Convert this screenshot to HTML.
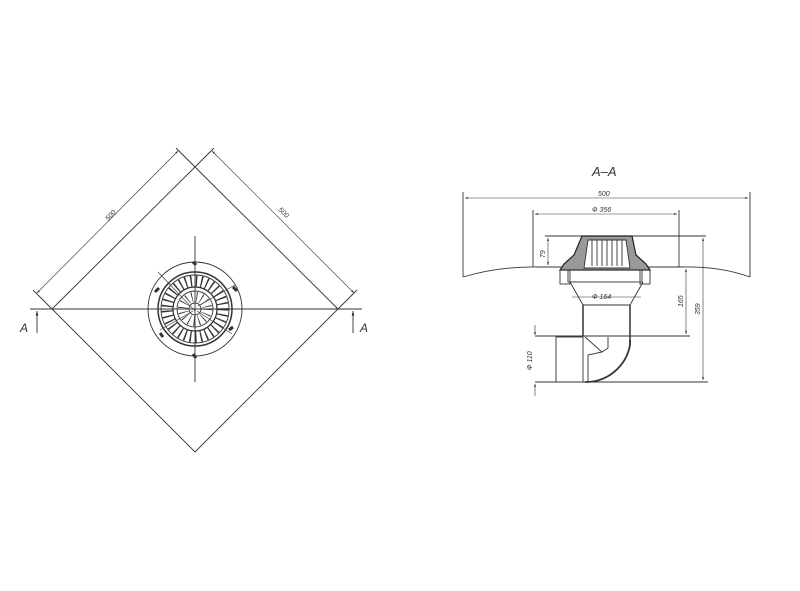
<!DOCTYPE html>
<html><head><meta charset="utf-8"><style>html,body{margin:0;padding:0;background:#fff}svg{display:block}</style></head><body>
<svg width="800" height="591" viewBox="0 0 800 591" xmlns="http://www.w3.org/2000/svg" font-family="Liberation Sans, sans-serif">
<defs><marker id="a" viewBox="0 0 10 10" refX="10" refY="5" markerWidth="7" markerHeight="5" orient="auto-start-reverse"><path d="M0,2L10,5L0,8z" fill="#222"/></marker></defs>
<g stroke="#333" fill="none" stroke-width="0.9">
<path d="M195,167L338,309L195,452L52,309Z"/>
<line x1="30" y1="309" x2="362" y2="309"/>
<line x1="195" y1="236" x2="195" y2="382"/>
<line x1="52" y1="309" x2="33" y2="290"/><line x1="195" y1="167" x2="176" y2="148"/>
<line x1="195" y1="167" x2="214" y2="148"/><line x1="338" y1="309" x2="357" y2="290"/>
<line x1="37" y1="293" x2="178" y2="151" marker-start="url(#a)" marker-end="url(#a)" stroke-width="0.6"/>
<line x1="212" y1="151" x2="354" y2="293" marker-start="url(#a)" marker-end="url(#a)" stroke-width="0.6"/>
<line x1="37" y1="333" x2="37" y2="311" marker-end="url(#a)"/>
<line x1="353" y1="333" x2="353" y2="311" marker-end="url(#a)"/>
<circle cx="195" cy="309" r="47"/>
<circle cx="195" cy="309" r="37" stroke-width="1.5"/>
<circle cx="195" cy="309" r="34"/>
<circle cx="195" cy="309" r="22" stroke-width="1.2"/>
<circle cx="195" cy="309" r="18"/>
<circle cx="195" cy="309" r="28" stroke-width="11" stroke-dasharray="1.4 3.9" stroke="#333"/>
<circle cx="195" cy="309" r="12" stroke-width="10" stroke-dasharray="0.8 4"/>
<circle cx="195" cy="309" r="6"/>
<path d="M195,311L158,272M198,306L235,285M193,311L160,330M197,311L232,334" stroke-width="0.6"/>
<path d="M155,292l4,-4M233,287l4,4M160,333l3,4M229,330l4,-3M193,262l3,3M193,354l3,4" stroke-width="3"/>
<path d="M463,277Q500,266 540,267L680,267Q720,266 750,277"/>
<line x1="463" y1="192" x2="463" y2="277"/><line x1="750" y1="192" x2="750" y2="277"/>
<line x1="465" y1="198" x2="748" y2="198" marker-start="url(#a)" marker-end="url(#a)" stroke-width="0.6"/>
<line x1="533" y1="210" x2="533" y2="267"/><line x1="679" y1="210" x2="679" y2="267"/>
<line x1="535" y1="214" x2="677" y2="214" marker-start="url(#a)" marker-end="url(#a)" stroke-width="0.6"/>
<line x1="545" y1="236" x2="706" y2="236"/>
<line x1="548" y1="238" x2="548" y2="265" marker-start="url(#a)" marker-end="url(#a)" stroke-width="0.6"/>
<line x1="703" y1="238" x2="703" y2="380" marker-start="url(#a)" marker-end="url(#a)" stroke-width="0.6"/>
<line x1="686" y1="269" x2="686" y2="334" marker-start="url(#a)" marker-end="url(#a)" stroke-width="0.6"/>
<line x1="535" y1="336" x2="690" y2="336"/><line x1="535" y1="382" x2="708" y2="382"/>
<line x1="535" y1="325" x2="535" y2="335" marker-end="url(#a)" stroke-width="0.6"/>
<line x1="535" y1="396" x2="535" y2="384" marker-end="url(#a)" stroke-width="0.6"/>
<path d="M582,236L632,236L636,255L646,264L650,270L560,270L564,264L574,255Z" fill="#999" stroke="#222" stroke-width="1.2"/>
<path d="M588,240L626,240L630,268L584,268Z" fill="#fff"/>
<path d="M592,240V266M597,240V266M602,240V266M607,240V266M612,240V266M617,240V266M622,240V266"/>
<rect x="560" y="270" width="10" height="14"/><rect x="640" y="270" width="10" height="14"/>
<rect x="568" y="270" width="74" height="12"/>
<path d="M570,282L583,305H630L643,282"/>
<line x1="572" y1="297" x2="641" y2="297" stroke-width="0.6"/>
<path d="M583,305V336M630,305V345" stroke-width="1.5"/>
<rect x="556" y="337" width="27" height="45"/>
<path d="M630,340V345A45,45 0 0 1 585,382" stroke-width="1.8"/>
<path d="M585,337L602,352L588,355V382M602,352L608,348V337"/>
</g>
<g fill="#333" font-style="italic">
<text x="20" y="332" font-size="12">A</text>
<text x="360" y="332" font-size="12">A</text>
<text x="592" y="176" font-size="13">A–A</text>
<text x="598" y="196" font-size="7">500</text>
<text x="592" y="212" font-size="7">Ф 356</text>
<text x="592" y="299" font-size="7">Ф 164</text>
<text font-size="7" transform="translate(108,221) rotate(-45)">500</text>
<text font-size="7" transform="translate(278,210) rotate(45)">500</text>
<text font-size="7" transform="translate(545,258) rotate(-90)">79</text>
<text font-size="7" transform="translate(683,307) rotate(-90)">165</text>
<text font-size="7" transform="translate(700,315) rotate(-90)">359</text>
<text font-size="7" transform="translate(532,370) rotate(-90)">Ф 110</text>
</g>
</svg>
</body></html>
